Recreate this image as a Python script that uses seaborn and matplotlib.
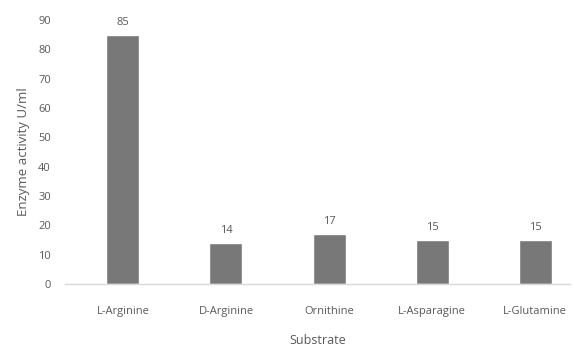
import numpy as np
import pandas as pd
import matplotlib
matplotlib.use("Agg")
import matplotlib.pyplot as plt
import seaborn as sns

substrates = ["L-Arginine", "D-Arginine", "Ornithine", "L-Asparagine", "L-Glutamine"]
activity = [85, 14, 17, 15, 15]
yticks = list(range(0, 100, 10))

sns.set_theme(style="white")
plt.rcParams["font.family"] = ["Open Sans", "DejaVu Sans"]

df = pd.DataFrame({"Substrate": substrates, "Activity": activity})

fig = plt.figure(figsize=(5.74, 3.5), dpi=100)
ax = fig.add_axes([0.113, 0.189, 0.88, 0.754])
sns.barplot(data=df, x="Substrate", y="Activity", color="#787878", width=0.32,
            saturation=1, ax=ax)

for i, v in enumerate(activity):
    ax.annotate(str(v), (i, v), xytext=(0, 5), textcoords="offset points",
                ha="center", va="bottom", fontsize=8, color="#595959")

ax.set_ylim(0, 90)
ax.set_yticks(yticks)
ax.set_xlim(-0.563, 4.337)
ax.tick_params(axis="both", labelsize=8, colors="#595959", length=0)
ax.tick_params(axis="x", pad=16)
ax.tick_params(axis="y", pad=10)
for s in ["top", "right", "left"]:
    ax.spines[s].set_visible(False)
ax.spines["bottom"].set_color("#d9d9d9")
ax.spines["bottom"].set_linewidth(1)
ax.set_xlabel("Substrate", fontsize=9, color="#595959", labelpad=12)
ax.set_ylabel("Enzyme activity U/ml", fontsize=9.5, color="#595959", labelpad=6)

fig.savefig("out.png", dpi=100)
